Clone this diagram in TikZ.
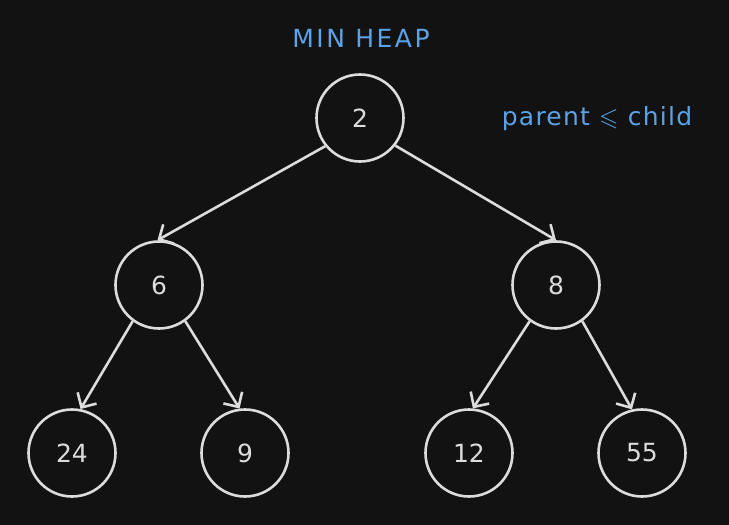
\documentclass[tikz,border=0pt]{standalone}
\usepackage{amssymb}
\usepackage{fontspec}
\setmainfont{DejaVu Sans}
\newfontfamily\titlefont[LetterSpace=10]{DejaVu Sans}
\newfontfamily\rulefont[LetterSpace=5]{DejaVu Sans}
\usetikzlibrary{arrows.meta}
\definecolor{bgc}{HTML}{121212}
\definecolor{fgc}{HTML}{DCDCDC}
\definecolor{bluec}{HTML}{5BA3E6}
\begin{document}
\begin{tikzpicture}[x=1pt,y=-1pt,
  heapnode/.style={circle, draw=fgc, line width=2.6pt, minimum size=87pt, inner sep=0pt, text=fgc, font=\fontsize{25}{28}\selectfont},
  edge/.style={draw=fgc, line width=2.6pt, -{Straight Barb[length=11pt,width=22pt,line width=2.6pt]}},
  label/.style={text=bluec}]
\fill[bgc] (0,0) rectangle (729,525);
\useasboundingbox (0,0) rectangle (729,525);
\node[label, font=\titlefont\fontsize{25}{28}\selectfont] (title) at (361,38) {MIN HEAP};
\node[label, font=\rulefont\fontsize{25}{28}\selectfont] (rule) at (597,119) {parent $\leqslant$ child};
\node[heapnode] (n2) at (360,118) {2};
\node[heapnode] (n6) at (159,285) {6};
\node[heapnode] (n8) at (556,285) {8};
\node[heapnode] (n24) at (72,453) {24};
\node[heapnode] (n9) at (245,453) {9};
\node[heapnode] (n12) at (469,453) {12};
\node[heapnode] (n55) at (642,453) {55};
\draw[edge] (n2.219) -- (n6.92);
\draw[edge] (n2.322) -- (n8.90);
\draw[edge] (n6.234) -- (n24.79);
\draw[edge] (n6.306) -- (n9.97);
\draw[edge] (n8.234) -- (n12.85);
\draw[edge] (n8.306) -- (n55.103);
\end{tikzpicture}
\end{document}
